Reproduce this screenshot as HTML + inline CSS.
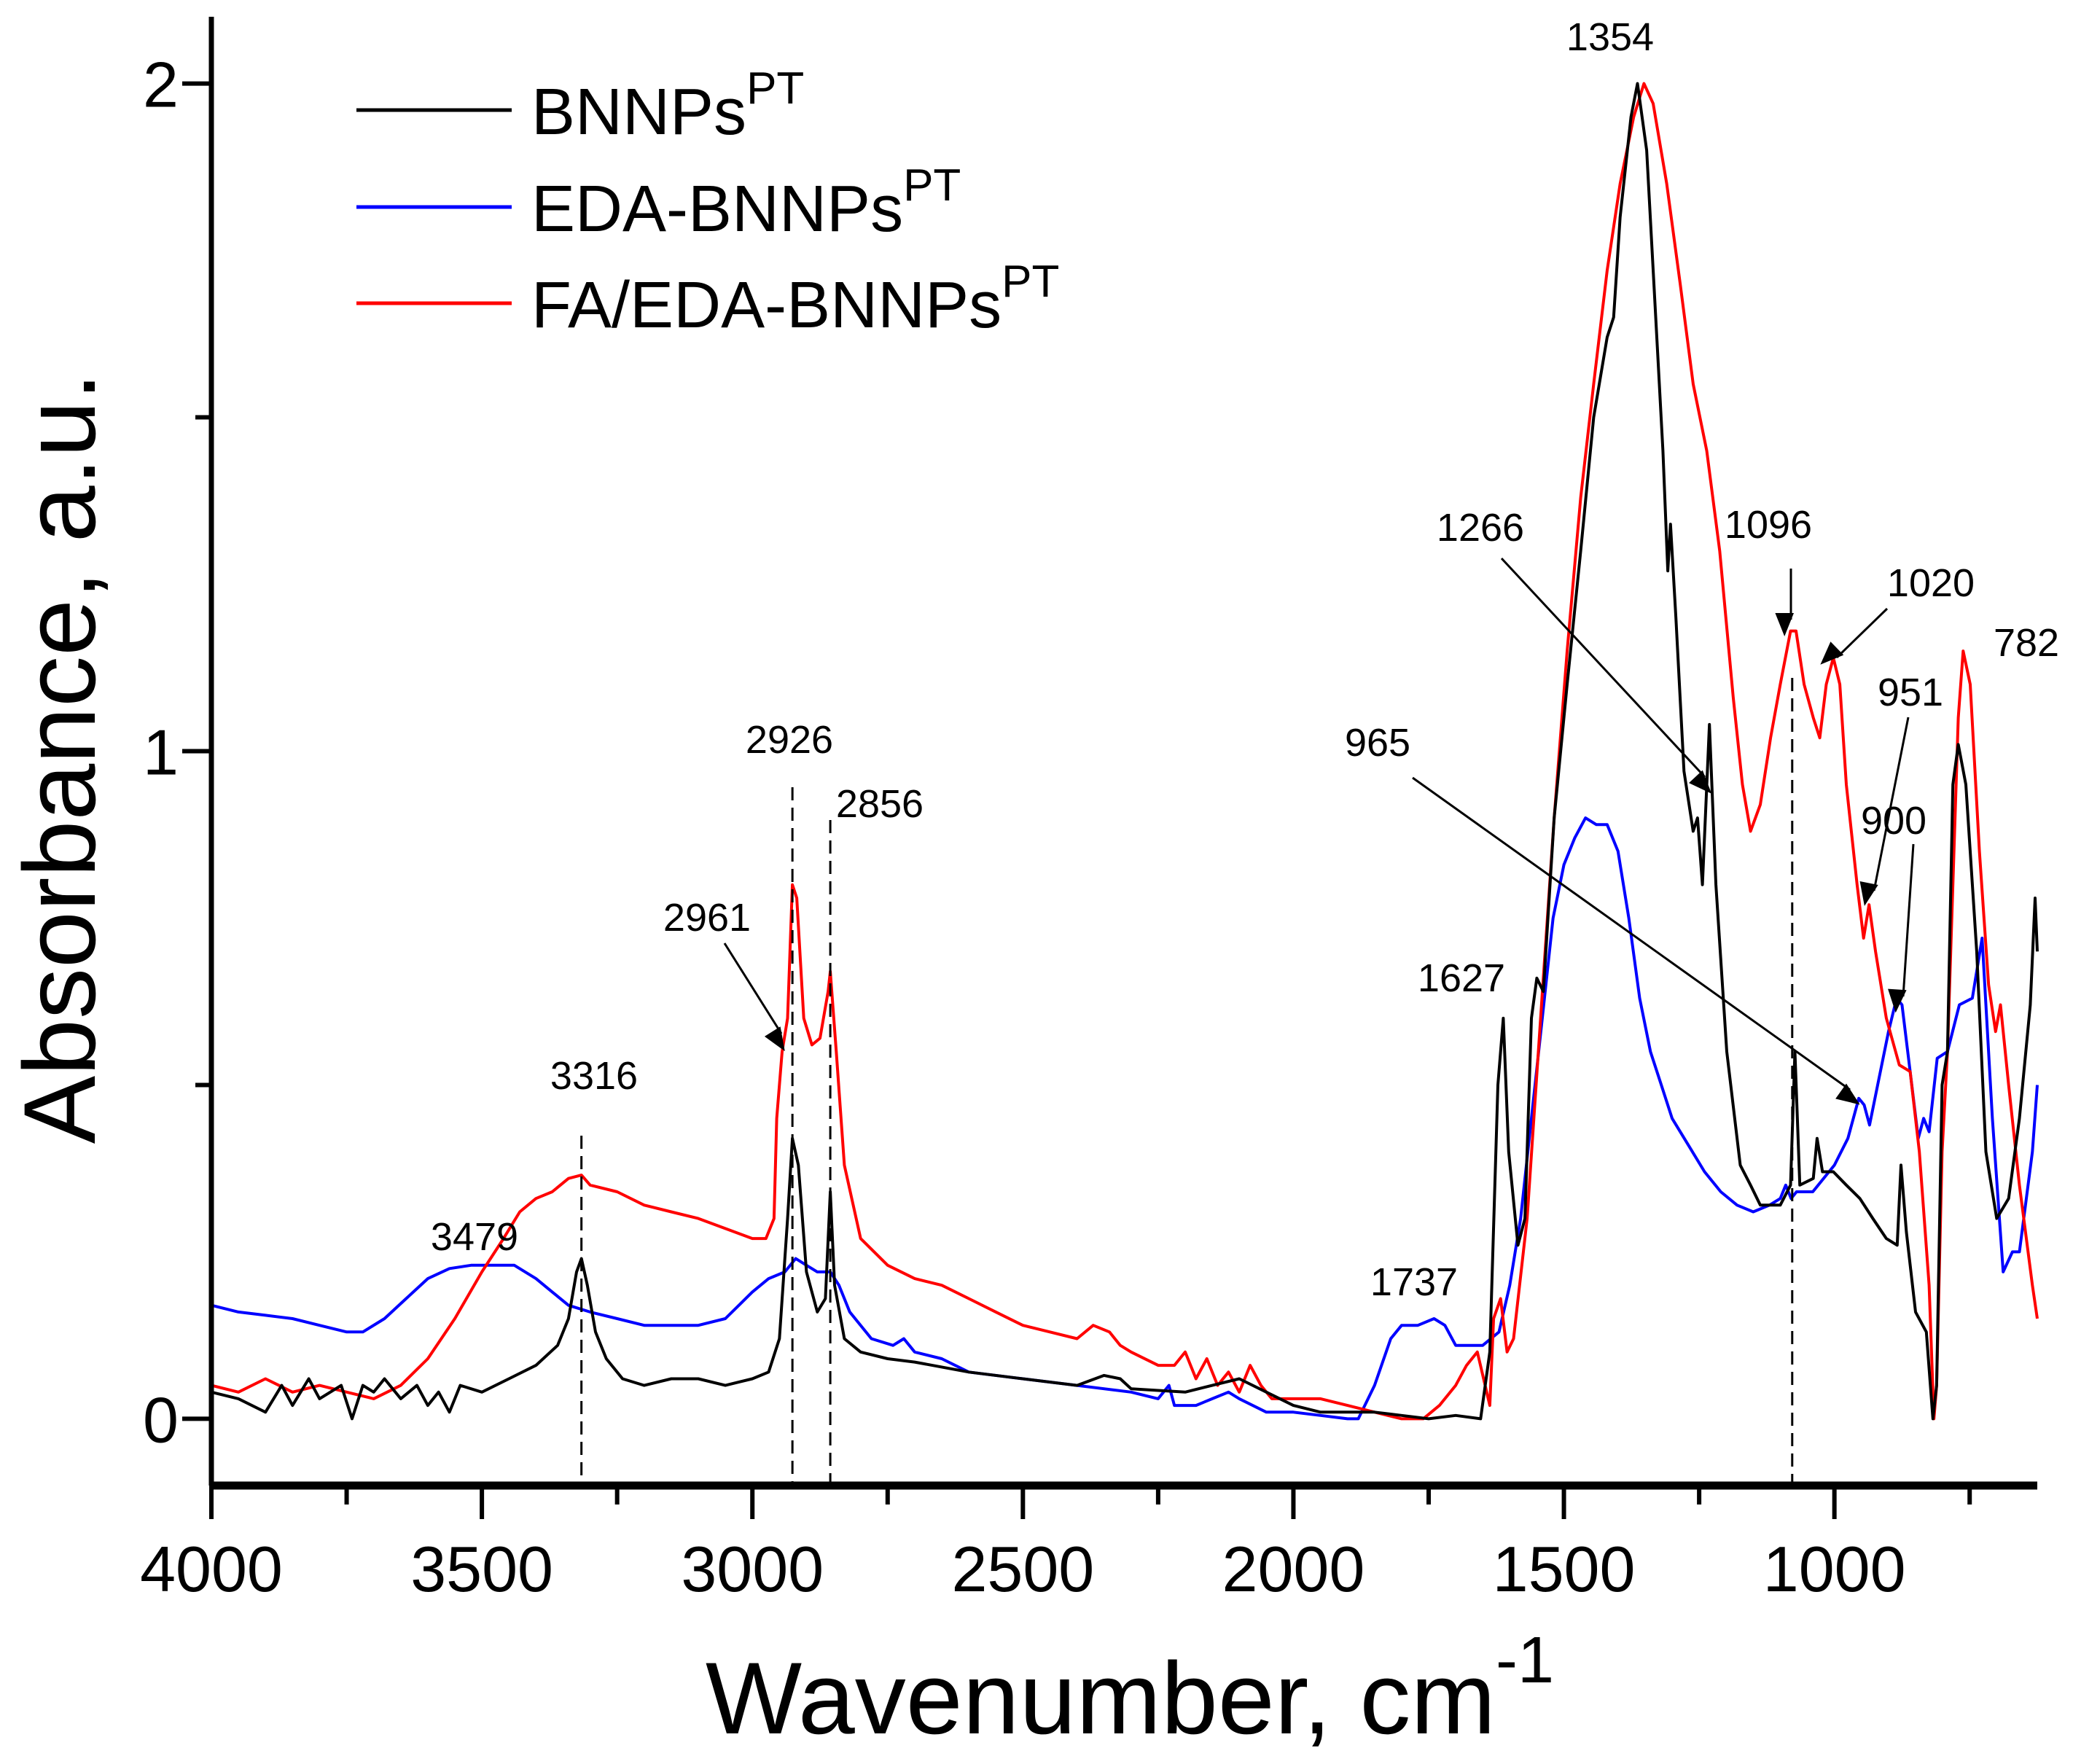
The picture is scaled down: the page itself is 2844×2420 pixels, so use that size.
<!DOCTYPE html>
<html><head><meta charset="utf-8"><style>
html,body{margin:0;padding:0;background:#fff}
svg{display:block;font-family:"Liberation Sans",Arial,sans-serif}
</style></head><body>
<svg id="chart" width="2844" height="2420" viewBox="0 0 2844 2420" xmlns="http://www.w3.org/2000/svg">
<g id="plot"></g>
</svg>
<script>
const xTicks = [4000, 3500, 3000, 2500, 2000, 1500, 1000];
const yTicks = [0, 1, 2];
const blackWn = [4000,3950,3900,3870,3850,3820,3800,3760,3740,3720,3700,3680,3650,3620,3600,3580,3560,3540,3500,3450,3400,3360,3340,3325,3316,3305,3290,3270,3240,3200,3150,3100,3050,3000,2970,2950,2935,2926,2915,2900,2880,2865,2856,2848,2830,2800,2750,2700,2600,2500,2400,2350,2320,2300,2200,2150,2100,2050,2000,1950,1900,1850,1800,1750,1700,1654,1637,1622,1612,1602,1585,1572,1560,1550,1538,1518,1494,1469,1445,1420,1408,1396,1376,1364,1347,1327,1317,1308,1303,1293,1278,1261,1253,1244,1231,1219,1199,1174,1155,1137,1100,1081,1073,1064,1039,1032,1022,1002,978,953,929,904,884,877,867,850,830,818,811,801,791,781,771,757,737,720,700,678,658,638,629,625];
const blackAbs = [0.04,0.03,0.01,0.05,0.02,0.06,0.03,0.05,0.0,0.05,0.04,0.06,0.03,0.05,0.02,0.04,0.01,0.05,0.04,0.06,0.08,0.11,0.15,0.22,0.24,0.2,0.13,0.09,0.06,0.05,0.06,0.06,0.05,0.06,0.07,0.12,0.3,0.42,0.38,0.22,0.16,0.18,0.34,0.2,0.12,0.1,0.09,0.085,0.07,0.06,0.05,0.065,0.06,0.045,0.04,0.05,0.06,0.04,0.02,0.01,0.01,0.01,0.005,0.0,0.005,0.0,0.1,0.5,0.6,0.4,0.26,0.3,0.6,0.66,0.64,0.9,1.1,1.3,1.5,1.62,1.65,1.8,1.95,2.0,1.9,1.6,1.45,1.27,1.34,1.2,0.97,0.88,0.9,0.8,1.04,0.8,0.55,0.38,0.35,0.32,0.32,0.35,0.55,0.35,0.36,0.42,0.37,0.37,0.35,0.33,0.3,0.27,0.26,0.38,0.28,0.16,0.13,0.0,0.05,0.5,0.55,0.95,1.01,0.95,0.7,0.4,0.3,0.33,0.45,0.62,0.78,0.7];
const blueWn = [4000,3950,3900,3850,3800,3750,3720,3680,3640,3600,3560,3520,3480,3440,3400,3370,3340,3300,3250,3200,3150,3100,3050,3000,2970,2940,2920,2900,2880,2856,2840,2820,2780,2740,2720,2700,2650,2600,2500,2400,2300,2250,2230,2220,2180,2150,2120,2100,2050,2000,1950,1900,1880,1850,1820,1800,1770,1740,1720,1700,1680,1650,1620,1600,1580,1560,1540,1520,1500,1480,1460,1440,1420,1400,1380,1360,1340,1320,1300,1270,1240,1210,1180,1150,1120,1100,1090,1080,1070,1040,1020,1000,975,955,945,935,920,900,885,875,860,845,835,825,810,791,769,745,727,708,688,671,658,634,625];
const blueAbs = [0.17,0.16,0.155,0.15,0.14,0.13,0.13,0.15,0.18,0.21,0.225,0.23,0.23,0.23,0.21,0.19,0.17,0.16,0.15,0.14,0.14,0.14,0.15,0.19,0.21,0.22,0.24,0.23,0.22,0.22,0.2,0.16,0.12,0.11,0.12,0.1,0.09,0.07,0.06,0.05,0.04,0.03,0.05,0.02,0.02,0.03,0.04,0.03,0.01,0.01,0.005,0.0,0.0,0.05,0.12,0.14,0.14,0.15,0.14,0.11,0.11,0.11,0.13,0.2,0.3,0.45,0.6,0.75,0.83,0.87,0.9,0.89,0.89,0.85,0.75,0.63,0.55,0.5,0.45,0.41,0.37,0.34,0.32,0.31,0.32,0.33,0.35,0.33,0.34,0.34,0.36,0.38,0.42,0.48,0.47,0.44,0.5,0.58,0.63,0.62,0.52,0.42,0.45,0.43,0.54,0.55,0.62,0.63,0.72,0.45,0.22,0.25,0.25,0.4,0.5];
const redWn = [4000,3950,3900,3850,3800,3750,3700,3650,3600,3550,3500,3460,3430,3400,3370,3340,3316,3300,3250,3200,3150,3100,3050,3000,2975,2960,2955,2945,2935,2926,2918,2905,2890,2875,2860,2856,2845,2830,2800,2750,2700,2650,2600,2550,2500,2450,2400,2370,2340,2320,2300,2250,2220,2200,2180,2160,2140,2120,2100,2080,2060,2040,2000,1950,1900,1850,1800,1760,1730,1700,1680,1660,1637,1630,1617,1605,1593,1568,1543,1518,1494,1469,1445,1420,1396,1371,1352,1335,1310,1285,1261,1236,1212,1187,1170,1155,1137,1118,1100,1081,1071,1056,1039,1027,1015,1002,990,978,958,946,936,924,904,880,860,843,825,816,811,801,791,781,771,762,749,732,715,702,693,678,658,634,625];
const redAbs = [0.05,0.04,0.06,0.04,0.05,0.04,0.03,0.05,0.09,0.15,0.22,0.27,0.31,0.33,0.34,0.36,0.365,0.35,0.34,0.32,0.31,0.3,0.285,0.27,0.27,0.3,0.45,0.55,0.6,0.8,0.78,0.6,0.56,0.57,0.64,0.67,0.55,0.38,0.27,0.23,0.21,0.2,0.18,0.16,0.14,0.13,0.12,0.14,0.13,0.11,0.1,0.08,0.08,0.1,0.06,0.09,0.05,0.07,0.04,0.08,0.05,0.03,0.03,0.03,0.02,0.01,0.0,0.0,0.02,0.05,0.08,0.1,0.02,0.15,0.18,0.1,0.12,0.3,0.6,0.9,1.15,1.38,1.55,1.72,1.85,1.95,2.0,1.97,1.85,1.7,1.55,1.45,1.3,1.08,0.95,0.88,0.92,1.02,1.1,1.18,1.18,1.1,1.05,1.02,1.1,1.14,1.1,0.95,0.8,0.72,0.77,0.7,0.6,0.53,0.52,0.4,0.2,0.0,0.05,0.4,0.55,0.8,1.05,1.15,1.1,0.85,0.65,0.58,0.62,0.5,0.35,0.2,0.15];

const X0=290, X1=2795, Y0=23, Y1=2038, XMAX=4000, XMIN=625, YMIN=-0.1, YMAX=2.1;
const xs = w => X0 + (XMAX - w) / (XMAX - XMIN) * (X1 - X0);
const ys = a => Y1 - (a - YMIN) / (YMAX - YMIN) * (Y1 - Y0);
const NS='http://www.w3.org/2000/svg';
const plot=document.getElementById('plot');
function mk(tag, attrs, parent){const e=document.createElementNS(NS,tag);for(const k in attrs)e.setAttribute(k,attrs[k]);(parent||plot).appendChild(e);return e;}

// series
function series(wn, ab, color, name){
  let d=''; wn.forEach((w,i)=>{d+=(i?'L':'M')+xs(w).toFixed(1)+' '+ys(ab[i]).toFixed(1);});
  const p=mk('path',{d:d,fill:'none',stroke:color,'stroke-width':4,'stroke-linejoin':'round'});
  
  
}
series(blueWn, blueAbs, '#0000ff', 'eda-bnnps-line');
series(redWn, redAbs, '#ff0000', 'fa-eda-bnnps-line');
series(blackWn, blackAbs, '#000000', 'bnnps-line');

// axes
const ax=mk('path',{d:`M${X0} ${Y0}V${Y1}`,stroke:'#000','stroke-width':7});


const bx=mk('path',{d:`M${X0-3} ${Y1}H${X1}`,stroke:'#000','stroke-width':11});


xTicks.forEach(t=>{
  mk('path',{d:`M${xs(t)} ${Y1}v46`,stroke:'#000','stroke-width':6});
  const tx=mk('text',{x:xs(t),y:2183,'font-size':88,'text-anchor':'middle'});
  tx.textContent=t;
  
  
});
xTicks.forEach(t=>{ if(t-250>XMIN) mk('path',{d:`M${xs(t-250)} ${Y1}v26`,stroke:'#000','stroke-width':6}); });
yTicks.forEach(t=>{
  mk('path',{d:`M${X0} ${ys(t)}h-40`,stroke:'#000','stroke-width':6});
  const tx=mk('text',{x:245,y:ys(t)+32,'font-size':88,'text-anchor':'end'});
  tx.textContent=t;
  
  
});
[0.5,1.5].forEach(t=>mk('path',{d:`M${X0} ${ys(t)}h-22`,stroke:'#000','stroke-width':6}));

// titles
const xt=mk('text',{x:1550,y:2378,'font-size':140,'text-anchor':'middle'});
xt.innerHTML='Wavenumber, cm<tspan font-size="90" dy="-70">-1</tspan>';


const yt=mk('text',{x:0,y:0,'font-size':140,'text-anchor':'middle',transform:'translate(130 1040) rotate(-90)'});
yt.textContent='Absorbance, a.u.';



// dashed lines
[[3316,1558,2040],[2926,1080,2040],[2856,1125,2040],[1078,930,2045]].forEach(r=>{
  const l=mk('path',{d:`M${xs(r[0])} ${r[1]}V${r[2]}`,stroke:'#000','stroke-width':3,'stroke-dasharray':'18 10'});
  
  
});

// arrows
mk('defs',{}).innerHTML='<marker id="ah" markerWidth="10" markerHeight="8" refX="9" refY="4" orient="auto" markerUnits="userSpaceOnUse" viewBox="0 0 10 8" style="overflow:visible"><path d="M0 0L10 4L0 8z" transform="scale(3.2)" fill="#000"/></marker>';
[[2060,766,2339,1066],[2457,780,2457,850],[2589,835,2520,902],[2618,984,2571,1222],[2625,1158,2611,1367],[1938,1067,2538,1495],[994,1294,1072,1418]].forEach(a=>{
  const l=mk('line',{x1:a[0],y1:a[1],x2:a[2],y2:a[3],stroke:'#000','stroke-width':3,'marker-end':'url(#ah)'});
  
  
});

// annotation labels
[['1354',2209,69],['1266',2031,742],['1096',2426,738],['1020',2649,818],['782',2780,900],['951',2621,968],['900',2598,1144],['965',1890,1037],['1627',2005,1360],['1737',1940,1777],['3479',651,1715],['3316',815,1494],['2961',970,1277],['2926',1083,1033],['2856',1207,1121]].forEach(a=>{
  const t=mk('text',{x:a[1],y:a[2],'font-size':54,'text-anchor':'middle'});
  t.textContent=a[0];
  
  
});

// legend
[['BNNPs','#000',151,'legend-bnnps'],['EDA-BNNPs','#0000ff',284,'legend-eda-bnnps'],['FA/EDA-BNNPs','#ff0000',416,'legend-fa-eda-bnnps']].forEach(e=>{
  const g=mk('g',{});
  
  
  mk('path',{d:`M489 ${e[2]}H702`,stroke:e[1],'stroke-width':5},g);
  const t=mk('text',{x:729,y:e[2]+33,'font-size':90},g);
  t.innerHTML=e[0]+'<tspan font-size="62" dy="-42">PT</tspan>';
});
</script>
</body></html>
